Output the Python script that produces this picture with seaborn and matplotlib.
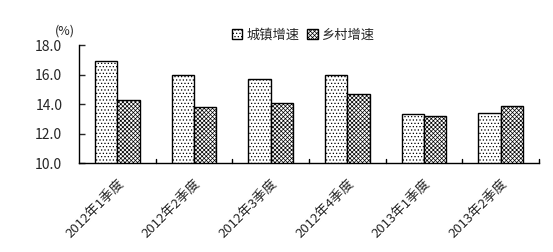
import matplotlib
matplotlib.use("Agg")
import matplotlib.pyplot as plt
import seaborn as sns
import pandas as pd
from matplotlib.patches import Patch

categories = ["2012年1季度", "2012年2季度", "2012年3季度", "2012年4季度", "2013年1季度", "2013年2季度"]
urban = [16.9, 16.0, 15.7, 16.0, 13.3, 13.4]
rural = [14.3, 13.8, 14.1, 14.7, 13.2, 13.9]
series = ["城镇增速", "乡村增速"]

df = pd.DataFrame({
    "cat": categories * 2,
    "val": urban + rural,
    "series": [series[0]] * len(categories) + [series[1]] * len(categories),
})

sns.set_style("white")
plt.rcParams["font.family"] = ["Noto Sans CJK SC", "DejaVu Sans"]
plt.rcParams["hatch.linewidth"] = 0.5

fig = plt.figure(figsize=(5.53, 2.52), dpi=100)
ax = fig.add_axes([0.1429, 0.353, 0.8318, 0.4684])

sns.barplot(data=df, x="cat", y="val", hue="series", ax=ax, width=0.58,
            palette=["white", "white"], edgecolor="black", linewidth=1.0,
            legend=False, saturation=1)

hatches = [".....", "xxxxxxxx"]
n = len(categories)
for i, p in enumerate(ax.patches[:2 * n]):
    p.set_hatch(hatches[i // n])
    p.set_facecolor("white")
    p.set_edgecolor("black")

ax.set_ylim(10, 18)
ax.set_xlim(-0.5, n - 0.5)
ax.set_yticks([10, 12, 14, 16, 18])
ax.set_yticklabels([f"{v:.1f}" for v in [10, 12, 14, 16, 18]], fontsize=10)
ax.set_xlabel("")
ax.set_ylabel("")
ax.set_xticks([i for i in range(n)])
ax.set_xticklabels(categories, rotation=45, ha="right", rotation_mode="anchor", fontsize=9.5)
ax.tick_params(axis="x", length=0, pad=10)
for x in range(1, n + 1):
    ax.plot([x - 0.5, x - 0.5], [10, 10.25], color="black", lw=1, clip_on=False)
ax.tick_params(axis="y", direction="in", length=4, width=1, pad=12, left=True)
for s in ["top", "right"]:
    ax.spines[s].set_visible(False)
for s in ["left", "bottom"]:
    ax.spines[s].set_color("black")
    ax.spines[s].set_linewidth(1)

fig.text(65 / 553, 1 - 31 / 252, "(%)", fontsize=9, ha="center", va="center")

handles = [Patch(facecolor="white", edgecolor="black", hatch=h, label=l) for h, l in zip(hatches, series)]
fig.legend(handles=handles, loc="center", bbox_to_anchor=(303 / 553, 1 - 35 / 252), ncol=2,
           frameon=False, fontsize=9.5, handlelength=0.8, handleheight=0.8,
           handletextpad=0.3, columnspacing=0.6)

fig.savefig("out.png", dpi=100)
